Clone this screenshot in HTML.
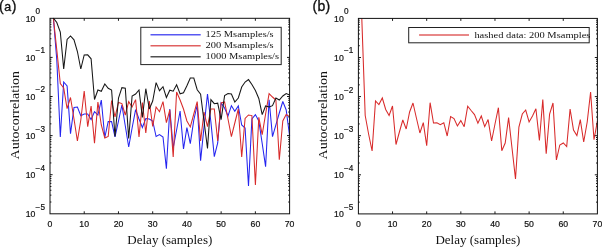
<!DOCTYPE html>
<html><head><meta charset="utf-8"><style>
html,body{margin:0;padding:0;background:#fff;width:602px;height:247px;overflow:hidden}
svg{display:block;filter:blur(0.25px)}
.tk{font-family:"Liberation Sans",sans-serif;font-size:8.7px;fill:#111;stroke:#111;stroke-width:0.2px}
.ex{font-family:"Liberation Sans",sans-serif;font-size:8.2px;fill:#111;stroke:#111;stroke-width:0.2px}
.lg{font-family:"Liberation Serif",serif;font-size:9px;fill:#111}
.al{font-family:"Liberation Serif",serif;font-size:12.9px;fill:#111}
.pl{font-family:"Liberation Sans",sans-serif;font-size:14px;fill:#111;stroke:#111;stroke-width:0.35px}
</style></head><body>
<svg width="602" height="247" viewBox="0 0 602 247">
<rect width="602" height="247" fill="#fff"/>
<polyline points="53.4,18.2 56.8,60.0 60.3,137.0 63.7,82.0 67.1,86.0 70.5,133.7 74.0,107.5 77.4,107.0 80.8,115.7 84.2,114.0 87.7,114.0 91.1,119.5 94.5,111.6 97.9,115.0 101.3,100.0 104.8,137.5 108.2,121.6 111.6,121.6 115.0,136.8 118.5,121.0 121.9,105.0 125.3,126.0 128.7,147.0 132.1,128.0 135.6,109.7 139.0,119.0 142.4,127.5 145.8,118.5 149.3,119.0 152.7,121.0 156.1,136.5 159.5,134.6 163.0,137.0 166.4,168.7 169.8,109.0 173.2,148.0 176.6,130.0 180.1,111.0 183.5,149.0 186.9,127.7 190.3,143.7 193.8,120.0 197.2,105.0 200.6,160.6 204.0,127.0 207.5,94.0 210.9,122.0 214.3,156.6 217.7,143.0 221.1,103.0 224.6,108.0 228.0,116.0 231.4,105.7 234.8,111.3 238.3,106.0 241.7,125.0 245.1,128.0 248.5,186.0 251.9,119.0 255.4,114.6 258.8,121.0 262.2,143.5 265.6,166.7 269.1,99.8 272.5,136.6 275.9,124.8 279.3,113.0 282.8,101.5 286.2,110.0 289.6,136.0" fill="none" stroke="#2424f0" stroke-width="1.05" stroke-linejoin="miter" stroke-miterlimit="3"/>
<polyline points="53.4,18.2 56.8,50.0 60.3,83.6 63.7,88.0 67.1,108.6 70.5,97.5 74.0,119.0 77.4,141.0 80.8,120.0 84.2,91.0 87.7,126.6 91.1,106.0 94.5,143.3 97.9,102.0 101.3,125.0 104.8,138.0 108.2,136.5 111.6,100.5 115.0,117.0 118.5,102.5 121.9,103.6 125.3,115.0 128.7,101.6 132.1,107.0 135.6,99.6 139.0,137.0 142.4,102.5 145.8,133.0 149.3,101.0 152.7,126.5 156.1,107.0 159.5,111.7 163.0,101.6 166.4,122.7 169.8,110.0 173.2,157.0 176.6,92.0 180.1,100.0 183.5,109.0 186.9,121.0 190.3,127.0 193.8,114.0 197.2,101.6 200.6,141.0 204.0,112.0 207.5,126.7 210.9,109.0 214.3,109.0 217.7,141.0 221.1,103.0 224.6,102.0 228.0,119.0 231.4,136.6 234.8,123.0 238.3,109.0 241.7,157.0 245.1,118.5 248.5,115.0 251.9,115.6 255.4,185.0 258.8,117.3 262.2,134.6 265.6,114.0 269.1,93.6 272.5,97.0 275.9,100.0 279.3,159.7 282.8,121.0 286.2,114.6 289.6,116.6" fill="none" stroke="#d82a2a" stroke-width="1.05" stroke-linejoin="miter" stroke-miterlimit="3"/>
<polyline points="53.4,18.2 56.8,22.5 60.3,32.0 63.7,69.0 67.1,39.5 70.5,36.0 74.0,39.8 77.4,51.5 80.8,69.0 84.2,55.0 87.7,54.8 91.1,58.8 94.5,99.5 97.9,90.0 101.3,91.3 104.8,84.0 108.2,88.3 111.6,90.0 115.0,136.5 118.5,98.0 121.9,87.7 125.3,88.2 128.7,138.5 132.1,96.0 135.6,94.0 139.0,90.0 142.4,117.5 145.8,88.7 149.3,109.0 152.7,101.0 156.1,82.6 159.5,90.7 163.0,86.7 166.4,97.5 169.8,90.2 173.2,91.2 176.6,84.7 180.1,93.8 183.5,92.7 186.9,85.7 190.3,78.0 193.8,78.0 197.2,89.7 200.6,94.2 204.0,121.0 207.5,148.5 210.9,99.6 214.3,103.7 217.7,103.2 221.1,119.6 224.6,95.6 228.0,93.5 231.4,94.0 234.8,102.0 238.3,98.0 241.7,87.0 245.1,82.0 248.5,79.6 251.9,84.5 255.4,90.5 258.8,98.5 262.2,114.6 265.6,106.0 269.1,107.0 272.5,105.7 275.9,98.0 279.3,100.0 282.8,96.0 286.2,93.6 289.6,95.0" fill="none" stroke="#161616" stroke-width="1.05" stroke-linejoin="miter" stroke-miterlimit="3"/>
<path d="M50.0 45.63h1.4M289.6 45.63h-1.4 M50.0 38.74h1.4M289.6 38.74h-1.4 M50.0 33.86h1.4M289.6 33.86h-1.4 M50.0 30.07h1.4M289.6 30.07h-1.4 M50.0 26.97h1.4M289.6 26.97h-1.4 M50.0 24.36h1.4M289.6 24.36h-1.4 M50.0 22.09h1.4M289.6 22.09h-1.4 M50.0 20.09h1.4M289.6 20.09h-1.4 M50.0 57.40h2.6M289.6 57.40h-2.6 M50.0 84.73h1.4M289.6 84.73h-1.4 M50.0 77.84h1.4M289.6 77.84h-1.4 M50.0 72.96h1.4M289.6 72.96h-1.4 M50.0 69.17h1.4M289.6 69.17h-1.4 M50.0 66.07h1.4M289.6 66.07h-1.4 M50.0 63.46h1.4M289.6 63.46h-1.4 M50.0 61.19h1.4M289.6 61.19h-1.4 M50.0 59.19h1.4M289.6 59.19h-1.4 M50.0 96.50h2.6M289.6 96.50h-2.6 M50.0 123.83h1.4M289.6 123.83h-1.4 M50.0 116.94h1.4M289.6 116.94h-1.4 M50.0 112.06h1.4M289.6 112.06h-1.4 M50.0 108.27h1.4M289.6 108.27h-1.4 M50.0 105.17h1.4M289.6 105.17h-1.4 M50.0 102.56h1.4M289.6 102.56h-1.4 M50.0 100.29h1.4M289.6 100.29h-1.4 M50.0 98.29h1.4M289.6 98.29h-1.4 M50.0 135.60h2.6M289.6 135.60h-2.6 M50.0 162.93h1.4M289.6 162.93h-1.4 M50.0 156.04h1.4M289.6 156.04h-1.4 M50.0 151.16h1.4M289.6 151.16h-1.4 M50.0 147.37h1.4M289.6 147.37h-1.4 M50.0 144.27h1.4M289.6 144.27h-1.4 M50.0 141.66h1.4M289.6 141.66h-1.4 M50.0 139.39h1.4M289.6 139.39h-1.4 M50.0 137.39h1.4M289.6 137.39h-1.4 M50.0 174.70h2.6M289.6 174.70h-2.6 M50.0 202.03h1.4M289.6 202.03h-1.4 M50.0 195.14h1.4M289.6 195.14h-1.4 M50.0 190.26h1.4M289.6 190.26h-1.4 M50.0 186.47h1.4M289.6 186.47h-1.4 M50.0 183.37h1.4M289.6 183.37h-1.4 M50.0 180.76h1.4M289.6 180.76h-1.4 M50.0 178.49h1.4M289.6 178.49h-1.4 M50.0 176.49h1.4M289.6 176.49h-1.4 M84.23 213.8v-2.5M84.23 18.3v2.5 M118.46 213.8v-2.5M118.46 18.3v2.5 M152.69 213.8v-2.5M152.69 18.3v2.5 M186.91 213.8v-2.5M186.91 18.3v2.5 M221.14 213.8v-2.5M221.14 18.3v2.5 M255.37 213.8v-2.5M255.37 18.3v2.5" stroke="#000" stroke-width="0.9" fill="none"/>
<rect x="50.0" y="18.3" width="239.6" height="195.5" fill="none" stroke="#111" stroke-width="1"/>
<text x="25.7" y="21.7" class="tk">10</text>
<text x="35.6" y="14.2" class="ex">0</text>
<text x="25.7" y="60.8" class="tk">10</text>
<text x="35.6" y="53.3" class="ex">−1</text>
<text x="25.7" y="99.9" class="tk">10</text>
<text x="35.6" y="92.4" class="ex">−2</text>
<text x="25.7" y="139.0" class="tk">10</text>
<text x="35.6" y="131.5" class="ex">−3</text>
<text x="25.7" y="178.1" class="tk">10</text>
<text x="35.6" y="170.6" class="ex">−4</text>
<text x="25.7" y="217.2" class="tk">10</text>
<text x="35.6" y="209.7" class="ex">−5</text>
<text x="50.0" y="227.1" class="tk" text-anchor="middle">0</text>
<text x="84.2" y="227.1" class="tk" text-anchor="middle">10</text>
<text x="118.5" y="227.1" class="tk" text-anchor="middle">20</text>
<text x="152.7" y="227.1" class="tk" text-anchor="middle">30</text>
<text x="186.9" y="227.1" class="tk" text-anchor="middle">40</text>
<text x="221.1" y="227.1" class="tk" text-anchor="middle">50</text>
<text x="255.4" y="227.1" class="tk" text-anchor="middle">60</text>
<text x="289.6" y="227.1" class="tk" text-anchor="middle">70</text>
<rect x="140.8" y="27.3" width="140.4" height="37.3" fill="#fff" stroke="#222" stroke-width="1"/>
<path d="M150.5 34.7H200.7" stroke="#5858f2" stroke-width="1.5"/>
<path d="M150.5 45.8H200.7" stroke="#e06060" stroke-width="1.5"/>
<path d="M150.5 56.8H200.7" stroke="#505050" stroke-width="1.5"/>
<text x="205.6" y="37.4" class="lg" textLength="68.1" lengthAdjust="spacingAndGlyphs">125 Msamples/s</text>
<text x="205.6" y="48.4" class="lg" textLength="68.1" lengthAdjust="spacingAndGlyphs">200 Msamples/s</text>
<text x="205.6" y="59.4" class="lg" textLength="73.4" lengthAdjust="spacingAndGlyphs">1000 Msamples/s</text>
<polyline points="361.8,18.6 365.2,115.5 368.6,134.0 372.1,151.0 375.5,101.0 378.9,104.5 382.3,98.0 385.7,109.5 389.1,115.5 392.5,106.0 396.0,144.5 399.4,132.0 402.8,120.0 406.2,129.0 409.6,112.0 413.0,103.0 416.4,118.0 419.9,133.0 423.3,122.7 426.7,145.7 430.1,102.7 433.5,123.0 436.9,122.7 440.3,124.7 443.8,122.7 447.2,136.0 450.6,116.6 454.0,118.6 457.4,126.0 460.8,120.6 464.2,126.7 467.7,106.2 471.1,110.5 474.5,114.6 477.9,123.2 481.3,116.0 484.7,126.7 488.1,119.6 491.6,141.0 495.0,124.0 498.4,107.7 501.8,150.7 505.2,143.0 508.6,117.6 512.0,148.0 515.5,179.0 518.9,127.0 522.3,114.0 525.7,110.0 529.1,122.0 532.5,116.0 535.9,108.7 539.4,140.5 542.8,99.6 546.2,153.7 549.6,114.0 553.0,103.0 556.4,160.0 559.8,145.0 563.3,143.0 566.7,146.5 570.1,109.0 573.5,130.0 576.9,135.6 580.3,119.7 583.7,142.0 587.2,122.0 590.6,92.0 594.0,139.7 597.4,121.0" fill="none" stroke="#d82a2a" stroke-width="1.05" stroke-linejoin="miter" stroke-miterlimit="3"/>
<path d="M358.4 45.73h1.4M597.4 45.73h-1.4 M358.4 38.84h1.4M597.4 38.84h-1.4 M358.4 33.96h1.4M597.4 33.96h-1.4 M358.4 30.17h1.4M597.4 30.17h-1.4 M358.4 27.07h1.4M597.4 27.07h-1.4 M358.4 24.46h1.4M597.4 24.46h-1.4 M358.4 22.19h1.4M597.4 22.19h-1.4 M358.4 20.19h1.4M597.4 20.19h-1.4 M358.4 57.50h2.6M597.4 57.50h-2.6 M358.4 84.83h1.4M597.4 84.83h-1.4 M358.4 77.94h1.4M597.4 77.94h-1.4 M358.4 73.06h1.4M597.4 73.06h-1.4 M358.4 69.27h1.4M597.4 69.27h-1.4 M358.4 66.17h1.4M597.4 66.17h-1.4 M358.4 63.56h1.4M597.4 63.56h-1.4 M358.4 61.29h1.4M597.4 61.29h-1.4 M358.4 59.29h1.4M597.4 59.29h-1.4 M358.4 96.60h2.6M597.4 96.60h-2.6 M358.4 123.93h1.4M597.4 123.93h-1.4 M358.4 117.04h1.4M597.4 117.04h-1.4 M358.4 112.16h1.4M597.4 112.16h-1.4 M358.4 108.37h1.4M597.4 108.37h-1.4 M358.4 105.27h1.4M597.4 105.27h-1.4 M358.4 102.66h1.4M597.4 102.66h-1.4 M358.4 100.39h1.4M597.4 100.39h-1.4 M358.4 98.39h1.4M597.4 98.39h-1.4 M358.4 135.70h2.6M597.4 135.70h-2.6 M358.4 163.03h1.4M597.4 163.03h-1.4 M358.4 156.14h1.4M597.4 156.14h-1.4 M358.4 151.26h1.4M597.4 151.26h-1.4 M358.4 147.47h1.4M597.4 147.47h-1.4 M358.4 144.37h1.4M597.4 144.37h-1.4 M358.4 141.76h1.4M597.4 141.76h-1.4 M358.4 139.49h1.4M597.4 139.49h-1.4 M358.4 137.49h1.4M597.4 137.49h-1.4 M358.4 174.80h2.6M597.4 174.80h-2.6 M358.4 202.13h1.4M597.4 202.13h-1.4 M358.4 195.24h1.4M597.4 195.24h-1.4 M358.4 190.36h1.4M597.4 190.36h-1.4 M358.4 186.57h1.4M597.4 186.57h-1.4 M358.4 183.47h1.4M597.4 183.47h-1.4 M358.4 180.86h1.4M597.4 180.86h-1.4 M358.4 178.59h1.4M597.4 178.59h-1.4 M358.4 176.59h1.4M597.4 176.59h-1.4 M392.54 213.9v-2.5M392.54 18.4v2.5 M426.69 213.9v-2.5M426.69 18.4v2.5 M460.83 213.9v-2.5M460.83 18.4v2.5 M494.97 213.9v-2.5M494.97 18.4v2.5 M529.11 213.9v-2.5M529.11 18.4v2.5 M563.26 213.9v-2.5M563.26 18.4v2.5" stroke="#000" stroke-width="0.9" fill="none"/>
<rect x="358.4" y="18.4" width="239.0" height="195.5" fill="none" stroke="#111" stroke-width="1"/>
<text x="334.1" y="21.8" class="tk">10</text>
<text x="344.0" y="14.3" class="ex">0</text>
<text x="334.1" y="60.9" class="tk">10</text>
<text x="344.0" y="53.4" class="ex">−1</text>
<text x="334.1" y="100.0" class="tk">10</text>
<text x="344.0" y="92.5" class="ex">−2</text>
<text x="334.1" y="139.1" class="tk">10</text>
<text x="344.0" y="131.6" class="ex">−3</text>
<text x="334.1" y="178.2" class="tk">10</text>
<text x="344.0" y="170.7" class="ex">−4</text>
<text x="334.1" y="217.3" class="tk">10</text>
<text x="344.0" y="209.8" class="ex">−5</text>
<text x="358.4" y="227.2" class="tk" text-anchor="middle">0</text>
<text x="392.5" y="227.2" class="tk" text-anchor="middle">10</text>
<text x="426.7" y="227.2" class="tk" text-anchor="middle">20</text>
<text x="460.8" y="227.2" class="tk" text-anchor="middle">30</text>
<text x="495.0" y="227.2" class="tk" text-anchor="middle">40</text>
<text x="529.1" y="227.2" class="tk" text-anchor="middle">50</text>
<text x="563.3" y="227.2" class="tk" text-anchor="middle">60</text>
<text x="597.4" y="227.2" class="tk" text-anchor="middle">70</text>
<rect x="408.7" y="27.5" width="180.5" height="15.3" fill="#fff" stroke="#222" stroke-width="1"/>
<path d="M419.1 34.9H469" stroke="#e06060" stroke-width="1.5"/>
<text x="474.4" y="37.9" class="lg" textLength="116" lengthAdjust="spacingAndGlyphs">hashed data: 200 Msamples</text>
<text x="169.8" y="244.3" class="al" text-anchor="middle" textLength="85" lengthAdjust="spacingAndGlyphs">Delay (samples)</text>
<text transform="translate(18.6,115.2) rotate(-90)" class="al" style="font-size:12.3px" text-anchor="middle" textLength="88.5" lengthAdjust="spacingAndGlyphs">Autocorrelation</text>
<text x="477.9" y="244.3" class="al" text-anchor="middle" textLength="85" lengthAdjust="spacingAndGlyphs">Delay (samples)</text>
<text transform="translate(327.0,115.2) rotate(-90)" class="al" style="font-size:12.3px" text-anchor="middle" textLength="88.5" lengthAdjust="spacingAndGlyphs">Autocorrelation</text>
<text x="-1" y="10.5" class="pl">(<tspan dx="0.6" font-size="12.4px">a</tspan><tspan dx="0.6">)</tspan></text>
<text x="312.5" y="10.5" class="pl">(<tspan dx="0.3" font-size="14px">b</tspan><tspan dx="0.3">)</tspan></text>
</svg>
</body></html>
